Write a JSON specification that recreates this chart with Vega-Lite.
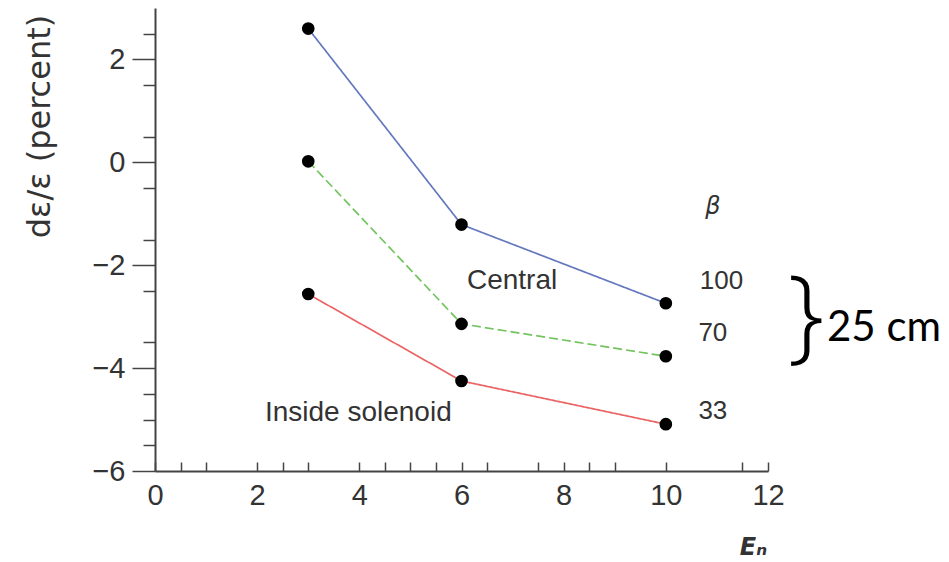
{
  "$schema": "https://vega.github.io/schema/vega-lite/v6.json",
  "width": 613,
  "height": 463,
  "autosize": {"type": "none"},
  "padding": {"left": 155, "top": 8, "right": 181, "bottom": 91},
  "background": "white",
  "config": {"view": {"stroke": null}},
  "datasets": {
    "series": [
      {"en": 3, "de": 2.6, "beta": "100"},
      {"en": 6, "de": -1.21, "beta": "100"},
      {"en": 10, "de": -2.74, "beta": "100"},
      {"en": 3, "de": 0.02, "beta": "70"},
      {"en": 6, "de": -3.14, "beta": "70"},
      {"en": 10, "de": -3.77, "beta": "70"},
      {"en": 3, "de": -2.56, "beta": "33"},
      {"en": 6, "de": -4.25, "beta": "33"},
      {"en": 10, "de": -5.09, "beta": "33"}
    ],
    "notes": [
      {"x": 6.99, "y": -2.3, "label": "Central", "kind": "plain"},
      {"x": 3.98, "y": -4.87, "label": "Inside solenoid", "kind": "plain"},
      {"x": 11.09, "y": -2.31, "label": "100", "kind": "beta"},
      {"x": 10.92, "y": -3.32, "label": "70", "kind": "beta"},
      {"x": 10.92, "y": -4.83, "label": "33", "kind": "beta"}
    ],
    "betahead": [{"x": 10.92, "y": -0.87, "label": "β"}],
    "brace": [{"x": 12.74, "y": -3.05, "label": "}"}],
    "cm": [{"x": 14.27, "y": -3.22, "label": "25 cm"}]
  },
  "layer": [
    {
      "mark": {"type": "rule", "color": "#555", "strokeWidth": 1.6, "strokeDash": [4, 3]},
      "encoding": {"y": {"datum": 0}}
    },
    {
      "mark": {"type": "rule", "color": "#444", "strokeWidth": 2},
      "encoding": {"x": {"datum": 12}}
    },
    {
      "data": {"name": "series"},
      "mark": {"type": "line", "strokeWidth": 1.7},
      "encoding": {
        "x": {
          "field": "en", "type": "quantitative",
          "scale": {"domain": [0, 12], "nice": false, "zero": false},
          "axis": {
            "values": [0, 0.5, 1, 2, 2.5, 3, 4, 4.5, 5, 5.5, 6, 6.5, 7.5, 8, 8.5, 9, 10, 11.5, 12],
            "tickCount": 100,
            "labelExpr": "datum.value % 2 === 0 ? format(datum.value, 'd') : ''",
            "grid": false,
            "domainColor": "#444", "domainWidth": 2,
            "tickColor": "#444", "tickWidth": 1.5, "tickSize": -9,
            "labelFont": "Liberation Sans", "labelFontSize": 29, "labelColor": "#333",
            "labelPadding": 19, "labelFlush": false, "labelOverlap": false,
            "title": "Eₙ",
            "titleFont": "DejaVu Sans", "titleFontSize": 24, "titleFontStyle": "italic",
            "titleFontWeight": "bold", "titleColor": "#333",
            "titleAlign": "center", "titleBaseline": "middle",
            "titleX": 598, "titleY": 76
          }
        },
        "y": {
          "field": "de", "type": "quantitative",
          "scale": {"domain": [-6, 3], "nice": false, "zero": false},
          "axis": {
            "values": [2.5, 2, 1.5, 0.5, 0, -0.5, -1.5, -2, -2.5, -3.5, -4, -4.5, -5, -5.5, -6],
            "tickCount": 100,
            "labelExpr": "datum.value % 2 === 0 ? format(datum.value, 'd') : ''",
            "grid": false,
            "domainColor": "#444", "domainWidth": 2,
            "tickColor": "#444", "tickWidth": 1.5,
            "tickSize": {"condition": {"test": "datum.value % 2 === 0", "value": 23}, "value": 12},
            "labelFont": "Liberation Sans", "labelFontSize": 29, "labelColor": "#333",
            "labelPadding": 7, "labelFlush": false, "labelOverlap": false,
            "title": "dε/ε (percent)",
            "titleFont": "DejaVu Sans", "titleFontSize": 32, "titleFontWeight": "normal",
            "titleColor": "#333", "titleAngle": -90,
            "titleAlign": "center", "titleBaseline": "middle",
            "titleX": -116, "titleY": 118
          }
        },
        "color": {
          "field": "beta", "type": "nominal", "legend": null,
          "scale": {"domain": ["100", "70", "33"], "range": ["#6478bd", "#73c45f", "#ea6464"]}
        },
        "strokeDash": {
          "field": "beta", "type": "nominal", "legend": null,
          "scale": {"domain": ["100", "70", "33"], "range": [[1, 0], [9, 4], [1, 0]]}
        }
      }
    },
    {
      "data": {"name": "series"},
      "mark": {"type": "circle", "color": "black", "opacity": 1, "size": 160},
      "encoding": {
        "x": {"field": "en", "type": "quantitative"},
        "y": {"field": "de", "type": "quantitative"}
      }
    },
    {
      "data": {"name": "notes"},
      "mark": {"type": "text", "font": "Liberation Sans", "fontSize": 28, "color": "#333", "align": "center", "baseline": "middle"},
      "encoding": {
        "x": {"field": "x", "type": "quantitative"},
        "y": {"field": "y", "type": "quantitative"},
        "text": {"field": "label"},
        "size": {"field": "kind", "type": "nominal", "legend": null, "scale": {"domain": ["plain", "beta"], "range": [28, 26]}}
      }
    },
    {
      "data": {"name": "betahead"},
      "mark": {"type": "text", "font": "DejaVu Sans", "fontSize": 24, "fontStyle": "italic", "color": "#333", "align": "center", "baseline": "middle"},
      "encoding": {
        "x": {"field": "x", "type": "quantitative"},
        "y": {"field": "y", "type": "quantitative"},
        "text": {"field": "label"}
      }
    },
    {
      "data": {"name": "brace"},
      "mark": {"type": "text", "font": "Open Sans", "fontWeight": 300, "fontSize": 104, "color": "black", "align": "center", "baseline": "middle"},
      "encoding": {
        "x": {"field": "x", "type": "quantitative"},
        "y": {"field": "y", "type": "quantitative"},
        "text": {"field": "label"}
      }
    },
    {
      "data": {"name": "cm"},
      "mark": {"type": "text", "font": "Lato", "fontSize": 42, "color": "black", "align": "center", "baseline": "middle"},
      "encoding": {
        "x": {"field": "x", "type": "quantitative"},
        "y": {"field": "y", "type": "quantitative"},
        "text": {"field": "label"}
      }
    }
  ],
  "resolve": {"scale": {"size": "independent"}}
}
